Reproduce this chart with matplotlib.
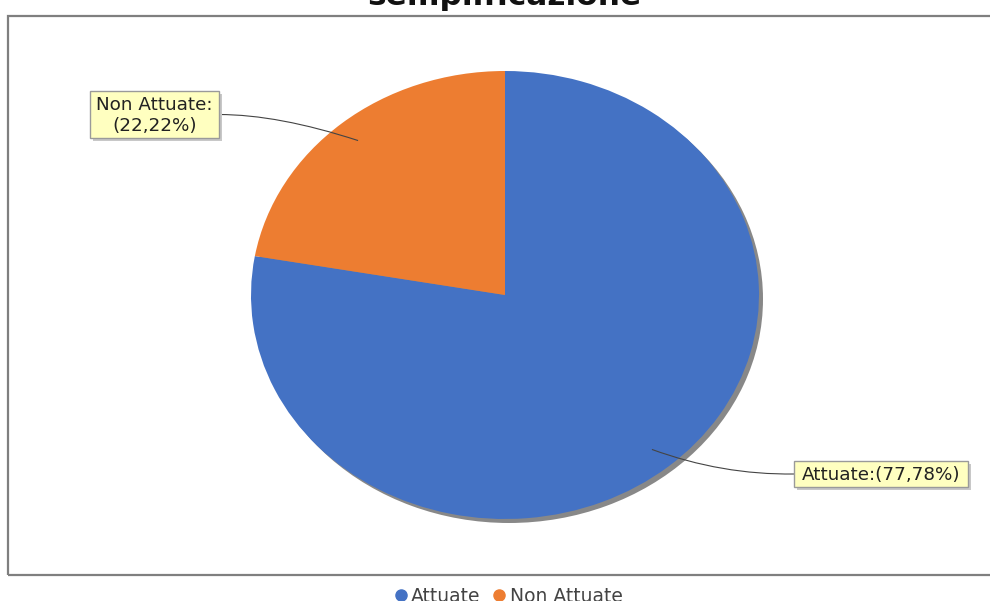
import numpy as np
import matplotlib
matplotlib.use("Agg")
import matplotlib.pyplot as plt
from matplotlib.patches import Rectangle
from matplotlib.path import Path
from matplotlib.patches import PathPatch
from matplotlib.lines import Line2D

# Data
categories = ["Attuate", "Non Attuate"]
values = [77.78, 22.22]
colors = ["#4472C4", "#ED7D31"]
title = "semplificazione"

W, H = 990, 601
fig = plt.figure(figsize=(W / 100, H / 100), dpi=100)
fig.patch.set_facecolor("white")


def fx(x):
    return x / W


def fy(y):
    return 1 - y / H


# Plot frame (open on the right side)
fig.add_artist(Rectangle((fx(7.5), fy(574.5)), fx(1000), 559 / H, transform=fig.transFigure,
                         fill=False, edgecolor="#7f7f7f", linewidth=1.6, zorder=1))

# Title, partly above the canvas
fig.text(fx(505), fy(5), title, ha="center", va="baseline", fontsize=22.5,
         fontweight="bold", color="#111111")

# Pie axes: elliptical pie
cx, cy, rx, ry = 505, 295, 254, 224
ax = fig.add_axes([fx(cx - rx), fy(cy + ry), 2 * rx / W, 2 * ry / H])

# shadow
sx, sy = 4 / rx, -4 / ry
ax.pie([1], colors=["#888888"], radius=1, center=(sx, sy), frame=True,
       wedgeprops=dict(linewidth=0))
ax.pie(values, colors=colors, startangle=90, counterclock=False, radius=1,
       center=(0, 0), frame=True, wedgeprops=dict(linewidth=0))
ax.set_xlim(-1, 1)
ax.set_ylim(-1, 1)
ax.set_aspect("auto")
ax.axis("off")

# Label anchors at slice mid-angles
total = sum(values)
angles = []
start = 90.0
for v in values:
    span = 360.0 * v / total
    angles.append(np.deg2rad(start - span / 2))
    start -= span


def anchor(theta, r=0.9):
    return cx + r * np.cos(theta) * rx, cy - r * np.sin(theta) * ry


label_text = [f"{c}:({v:.2f}%)".replace(".", ",") for c, v in zip(categories, values)]
label_text[1] = label_text[1].replace(":(", ":\n(")
boxes = [(794, 461, 968, 487), (90, 91, 219, 138)]

for theta, txt, box in zip(angles, label_text, boxes):
    x0, y0, x1, y1 = box
    ax_x, ax_y = anchor(theta)
    # connector curve
    if ax_x > x0:
        end = (x1, (y0 + y1) / 2)
        ctrl = (ax_x - 80, end[1])
    else:
        end = (x0, (y0 + y1) / 2)
        ctrl = (ax_x + 70, end[1] + 1)
    verts = [(fx(ax_x), fy(ax_y)), (fx(ctrl[0]), fy(ctrl[1])), (fx(end[0]), fy(end[1]))]
    fig.add_artist(PathPatch(Path(verts, [Path.MOVETO, Path.CURVE3, Path.CURVE3]),
                             transform=fig.transFigure, fill=False,
                             edgecolor="#444444", linewidth=0.8, zorder=5))
    # box shadow and box
    fig.add_artist(Rectangle((fx(x0 + 3), fy(y1 + 3)), (x1 - x0) / W, (y1 - y0) / H,
                             transform=fig.transFigure, facecolor="#c8c8c8",
                             edgecolor="none", zorder=6))
    fig.add_artist(Rectangle((fx(x0), fy(y1)), (x1 - x0) / W, (y1 - y0) / H,
                             transform=fig.transFigure, facecolor="#FFFFC0",
                             edgecolor="#9a9a9a", linewidth=1.0, zorder=7))
    fig.text(fx((x0 + x1) / 2), fy((y0 + y1) / 2 + 1), txt, ha="center", va="center",
             fontsize=13.2, color="#222222", linespacing=1.15, zorder=8)

# Legend
handles = [Line2D([], [], marker="o", linestyle="none", markersize=8,
                  markerfacecolor=c, markeredgecolor=c) for c in colors]
fig.legend(handles, categories, loc="center", bbox_to_anchor=(fx(508), fy(596)),
           ncol=2, frameon=False, fontsize=13.5, handletextpad=0.15,
           columnspacing=0.6, handlelength=0.8, labelcolor="#444444",
           borderpad=0, borderaxespad=0)

fig.savefig("out.png", dpi=100)
